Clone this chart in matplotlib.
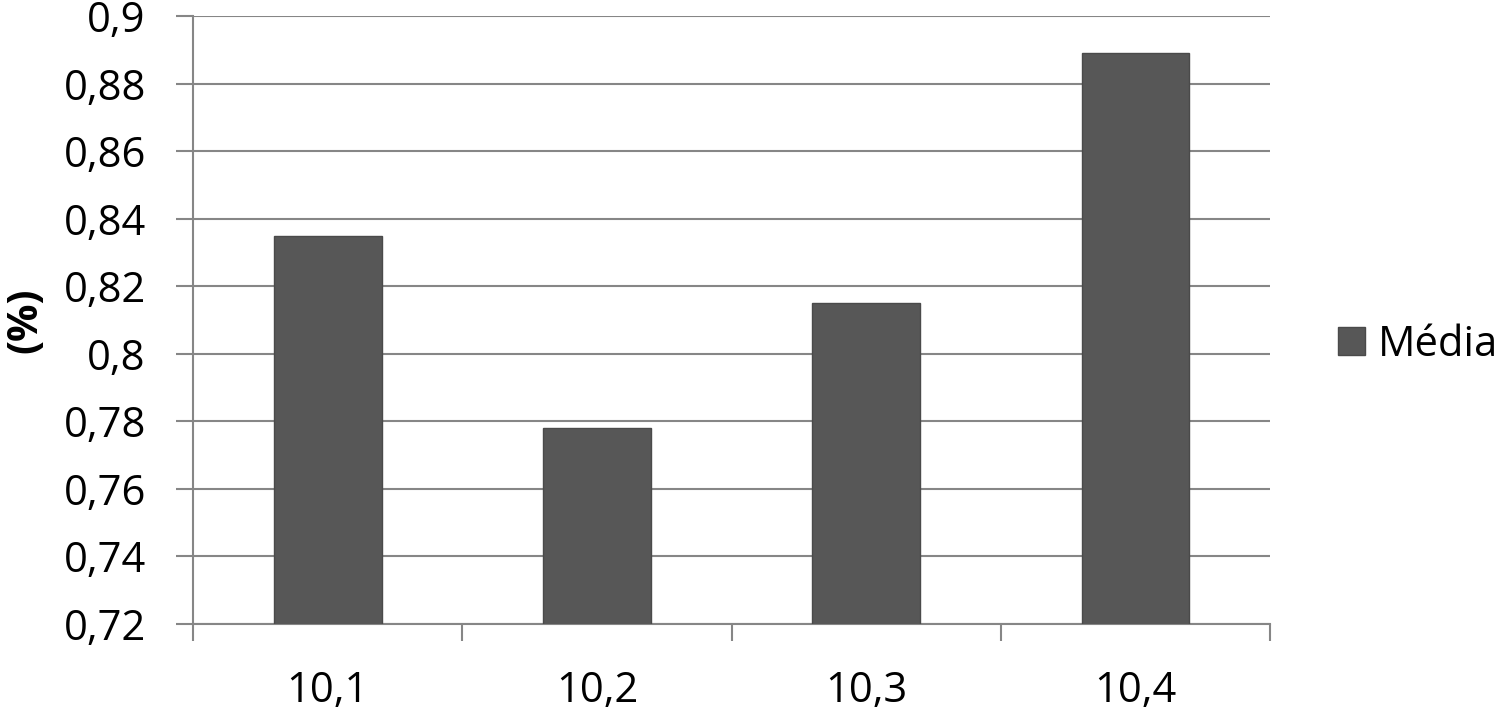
import matplotlib
matplotlib.use("Agg")
import matplotlib.pyplot as plt
import numpy as np

categories = ["10,1", "10,2", "10,3", "10,4"]
media = [0.835, 0.778, 0.815, 0.889]
yticks = [0.72, 0.74, 0.76, 0.78, 0.80, 0.82, 0.84, 0.86, 0.88, 0.90]
yticklabels = ["0,72", "0,74", "0,76", "0,78", "0,8", "0,82", "0,84", "0,86", "0,88", "0,9"]

plt.rcParams['font.family'] = ['Open Sans', 'DejaVu Sans']

fig = plt.figure(figsize=(15, 7.09), dpi=100)
ax = fig.add_axes([0.1287, 0.1199, 0.8467 - 0.1287, 0.9774 - 0.1199])

x = np.arange(len(categories))
bars = ax.bar(x, media, width=0.4, color="#575757", edgecolor="#4a4a4a", linewidth=1, zorder=3, label="Média")

ax.set_xlim(-0.5, len(categories) - 0.5)
ax.set_ylim(0.72, 0.90)
ax.set_yticks(yticks)
ax.set_yticklabels(yticklabels, fontsize=30)
ax.set_xticks(x)
ax.set_xticklabels(categories, fontsize=30)
ax.set_xticks(np.arange(-0.5, len(categories)), minor=True)

ax.tick_params(axis='x', which='major', length=0, pad=33)
ax.tick_params(axis='x', which='minor', length=12, width=1.5, color="#868686")
ax.tick_params(axis='y', which='major', length=12, width=1.5, color="#868686", pad=22)

ax.grid(axis='y', color="#868686", linewidth=1.5, zorder=0)
for s in ['top', 'right']:
    ax.spines[s].set_visible(False)
for s in ['left', 'bottom']:
    ax.spines[s].set_color("#868686")
    ax.spines[s].set_linewidth(1.5)

ax.set_ylabel("(%)", fontsize=30, fontweight='bold', labelpad=12)

leg = ax.legend(loc='center left', bbox_to_anchor=(1.063, 0.459), frameon=False, fontsize=30,
                handlelength=0.65, handleheight=0.65, handletextpad=0.3,
                borderpad=0, borderaxespad=0)

fig.savefig("out.png", dpi=100)
